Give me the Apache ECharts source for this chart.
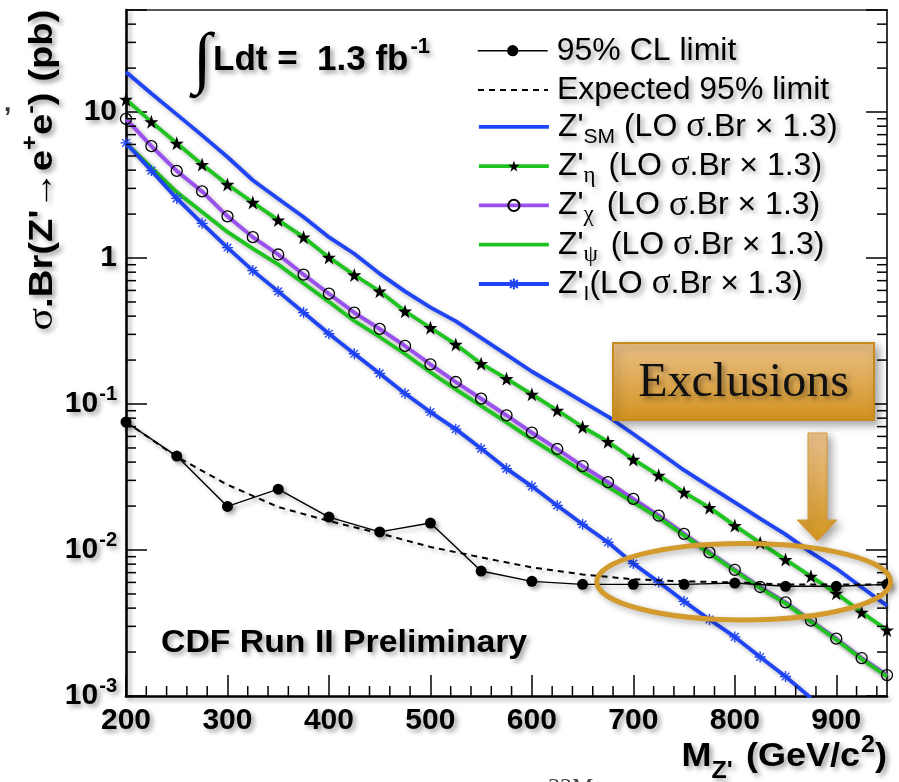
<!DOCTYPE html>
<html><head><meta charset="utf-8">
<script src="https://cdn.jsdelivr.net/npm/echarts@6/dist/echarts.min.js"></script>
<style>html,body{margin:0;padding:0;background:#fff}#c{width:899px;height:782px}</style>
</head><body><div id="c"></div>
<script>
// ---------------- data ----------------
const masses = [200,225,250,275,300,325,350,375,400,425,450,475,500,525,550,575,600,625,650,675,700,725,750,775,800,825,850,875,900,925,950];
const limitMasses = [200,250,300,350,400,450,500,550,600,650,700,750,800,850,900,950];
const observedLimit = [0.0753,0.0440,0.0199,0.0261,0.0168,0.0133,0.0153,0.00718,0.00610,0.00582,0.00582,0.00582,0.00594,0.00564,0.00564,0.00582];
const expectedLimit = [0.0755,0.0435,0.0280,0.0197,0.0158,0.0130,0.0105,0.0089,0.0076,0.0068,0.0063,0.0061,0.0060,0.0058,0.0058,0.0058];
const sigmaSM  = [18.8,13.4,9.64,6.92,4.92,3.41,2.55,1.91,1.39,1.07,0.782,0.591,0.459,0.370,0.284,0.218,0.167,0.132,0.104,0.0821,0.0623,0.0469,0.0352,0.0273,0.0212,0.0164,0.0128,0.00964,0.00746,0.00556,0.00416];
const sigmaEta = [12.2,8.57,6.11,4.37,3.19,2.40,1.82,1.39,1.01,0.765,0.592,0.432,0.333,0.256,0.189,0.149,0.1165,0.0906,0.0696,0.0552,0.0417,0.0325,0.0248,0.0195,0.0147,0.0112,0.0086,0.0066,0.00505,0.00374,0.00283];
const sigmaChi = [8.98,5.84,3.95,2.86,1.93,1.39,1.057,0.770,0.570,0.423,0.327,0.250,0.187,0.1415,0.1089,0.0837,0.0637,0.0492,0.0376,0.0292,0.0224,0.0172,0.0129,0.00964,0.00732,0.00558,0.00438,0.00328,0.00247,0.00182,0.00139];
const sigmaPsi = [6.13,4.16,2.83,2.07,1.51,1.16,0.905,0.671,0.501,0.371,0.288,0.220,0.165,0.126,0.0972,0.0749,0.0573,0.0445,0.0343,0.0271,0.0212,0.0166,0.0126,0.00949,0.00721,0.00549,0.00431,0.00323,0.00243,0.00179,0.00136];
const sigmaI   = [6.14,3.97,2.56,1.73,1.18,0.820,0.591,0.423,0.303,0.221,0.162,0.118,0.0881,0.0673,0.0495,0.0361,0.0273,0.0202,0.0150,0.0113,0.00807,0.00604,0.00445,0.00334,0.00254,0.00185,0.00136,0.00097];
const xMinorTicks = [220,240,260,280,320,340,360,380,420,440,460,480,520,540,560,580,620,640,660,680,720,740,760,780,820,840,860,880,920,940];
const yMinorTicks = [0.002,0.003,0.004,0.005,0.006,0.007,0.008,0.009,0.02,0.03,0.04,0.05,0.06,0.07,0.08,0.09,0.2,0.3,0.4,0.5,0.6,0.7,0.8,0.9,2,3,4,5,6,7,8,9,20,30,40];
const legendNames = ['obs','exp','sm','eta','chi','psi','I'];
const legendLabels = {
  obs: '{n|95% CL limit}',
  exp: '{n|Expected 95% limit}',
  sm:  "{n|Z'}{sub|SM}{n| (LO }{g|σ}{n|.Br × 1.3)}",
  eta: "{n|Z'}{subg|η}{n| (LO }{g|σ}{n|.Br × 1.3)}",
  chi: "{n|Z'}{subg|χ}{n| (LO }{g|σ}{n|.Br × 1.3)}",
  psi: "{n|Z'}{subg|ψ}{n| (LO }{g|σ}{n|.Br × 1.3)}",
  I:   "{n|Z'}{sub|I}{n|(LO }{g|σ}{n|.Br × 1.3)}"
};
const X_MIN = 200, X_MAX = 950, Y_MIN = 0.001, Y_MAX = 50;

// ---------------- styles ----------------
const SANS = '"Liberation Sans", Arial, Helvetica, sans-serif';
const SERIF = '"Liberation Serif", "Times New Roman", serif';
const BLUE = '#1f44f6', GREEN = '#20c420', PURPLE = '#9a50ee';
const NONE = 'rgba(0,0,0,0)';
const lsh = {shadowColor:'rgba(0,0,0,0.30)', shadowBlur:4, shadowOffsetX:3, shadowOffsetY:3};
const tsh = {textShadowColor:'rgba(0,0,0,0.38)', textShadowBlur:5, textShadowOffsetX:3, textShadowOffsetY:3};
const STAR = 'path://M50,0 L61.8,35.1 L98.9,35.1 L68.9,56.8 L80.3,91.9 L50,70.2 L19.7,91.9 L31.1,56.8 L1.1,35.1 L38.2,35.1 Z';
const ASTER = 'path://M50,0L50,100M0,50L100,50M15,15L85,85M85,15L15,85';

function pairs(xs, ys){ return ys.map((v,i)=>[xs[i], v]); }

function yLabel(v){
  const l = Math.log10(v), e = Math.round(l);
  if (Math.abs(l - e) > 1e-6) return '';
  if (e === 0) return '{m|1}';
  if (e === 1) return '{m|10}';
  return '{m|10}{s|' + e + '}';
}

const chart = echarts.init(document.getElementById('c'), null, {renderer:'canvas'});

const theory = (name, data, color, extra) => Object.assign({
  name, type:'line', data, smooth:false, showSymbol:false, symbol:'none',
  lineStyle:Object.assign({color, width:3.8}, lsh),
  itemStyle:{color:NONE}, emphasis:{disabled:true}, z:3
}, extra || {});

const legendTextStyle = {fontSize:32, fontFamily:SANS, color:'#000', padding:[0,0,0,4],
  rich:{
    n:Object.assign({fontSize:32, fontFamily:SANS, color:'#000', lineHeight:34}, tsh),
    g:Object.assign({fontSize:35, fontFamily:SERIF, color:'#000', lineHeight:34}, tsh),
    sub:Object.assign({fontSize:21, fontFamily:SANS, color:'#000', lineHeight:34, height:14, verticalAlign:'top', padding:[20,0,0,0]}, tsh),
    subg:Object.assign({fontSize:23, fontFamily:SERIF, color:'#000', lineHeight:34, height:14, verticalAlign:'top', padding:[20,4,0,0]}, tsh)
  }};
const ROW_TOP = 29.7, ROW_PITCH = 39.3, SUB_ROW_SHIFT = 4;
const legends = legendNames.map((n, i) => ({
  data:[n], orient:'vertical', left:472, top:ROW_TOP + ROW_PITCH * i - (i >= 2 ? SUB_ROW_SHIFT : 0),
  itemWidth:70, itemHeight:14,
  selectedMode:false, lineStyle:{width:'inherit'},
  formatter:(nm)=>legendLabels[nm], textStyle:legendTextStyle
}));

const option = {
  animation:false,
  backgroundColor:'#fff',
  grid:{left:126, right:12, top:10, bottom:86, containLabel:false},
  xAxis:[{
    type:'value', min:X_MIN, max:X_MAX, interval:100, position:'bottom',
    axisLine:{show:true, onZero:false, lineStyle:Object.assign({color:'#000', width:2.6}, lsh)},
    axisTick:{show:true, inside:true, length:21, lineStyle:{color:'#000', width:1.5}},
    axisLabel:Object.assign({show:true, showMaxLabel:false, margin:10, color:'#000', fontSize:30, fontWeight:'bold', fontFamily:SANS}, tsh),
    splitLine:{show:false}
  },{
    type:'value', min:X_MIN, max:X_MAX, position:'top',
    axisLine:{show:true, onZero:false, lineStyle:{color:'#222', width:1.6}},
    axisTick:{show:false}, axisLabel:{show:false}, splitLine:{show:false}
  }],
  yAxis:[{
    type:'log', logBase:10, min:Y_MIN, max:Y_MAX, position:'left',
    axisLine:{show:true, onZero:false, lineStyle:Object.assign({color:'#000', width:2.6}, lsh)},
    axisTick:{show:true, inside:true, length:21, lineStyle:{color:'#000', width:1.5}},
    axisLabel:{show:true, margin:9, formatter:yLabel, color:'#000',
      rich:{
        m:Object.assign({fontSize:30, fontWeight:'bold', fontFamily:SANS, color:'#000', lineHeight:42}, tsh),
        s:Object.assign({fontSize:20, fontWeight:'bold', fontFamily:SANS, color:'#000', lineHeight:42, verticalAlign:'top', padding:[1,0,0,1]}, tsh)
      }},
    splitLine:{show:false}
  },{
    type:'log', logBase:10, min:Y_MIN, max:Y_MAX, position:'right',
    axisLine:{show:true, onZero:false, lineStyle:{color:'#222', width:1.8}},
    axisTick:{show:true, inside:true, length:21, lineStyle:{color:'#000', width:1.5}},
    axisLabel:{show:false}, splitLine:{show:false}
  }],
  legend:legends,
  series:[
    theory('sm', pairs(masses, sigmaSM), BLUE),
    theory('eta', pairs(masses, sigmaEta), GREEN, {showSymbol:true, symbol:STAR, symbolSize:14,
      itemStyle:{color:'#000', borderWidth:0}}),
    theory('chi', pairs(masses, sigmaChi), PURPLE, {showSymbol:true, symbol:'circle', symbolSize:11,
      itemStyle:{color:NONE, borderColor:'#000', borderWidth:1.3}}),
    theory('psi', pairs(masses, sigmaPsi), GREEN),
    theory('I', pairs(masses, sigmaI), BLUE, {showSymbol:true, symbol:ASTER, symbolSize:11,
      itemStyle:{color:BLUE, borderColor:BLUE, borderWidth:1.3}}),
    {name:'exp', type:'line', data:pairs(limitMasses, expectedLimit), showSymbol:false, symbol:'none',
      lineStyle:Object.assign({color:'#000', width:2, type:[6,5]}, lsh), itemStyle:{color:NONE},
      emphasis:{disabled:true}, z:4},
    {name:'obs', type:'line', data:pairs(limitMasses, observedLimit), showSymbol:true, symbol:'circle', symbolSize:11,
      lineStyle:Object.assign({color:'#000', width:1.4}, lsh), itemStyle:Object.assign({color:'#000'}, lsh),
      emphasis:{disabled:true}, z:5},
    {name:'yminor', type:'custom', silent:true, z:6, clip:false,
      data:yMinorTicks.map(v=>[X_MIN, v]),
      renderItem:(params, api)=>{
        const cs = params.coordSys;
        const y = api.coord([api.value(0), api.value(1)])[1];
        const xl = cs.x, xr = cs.x + cs.width;
        return {type:'group', children:[
          {type:'line', shape:{x1:xl, y1:y, x2:xl+10, y2:y}, style:{stroke:'#000', lineWidth:1.5}},
          {type:'line', shape:{x1:xr-10, y1:y, x2:xr, y2:y}, style:{stroke:'#000', lineWidth:1.5}}
        ]};
      }},
    {name:'xminor', type:'custom', silent:true, z:6, clip:false,
      data:xMinorTicks.map(v=>[v, Y_MIN]),
      renderItem:(params, api)=>{
        const cs = params.coordSys;
        const x = api.coord([api.value(0), api.value(1)])[0];
        const yb = cs.y + cs.height;
        return {type:'line', shape:{x1:x, y1:yb, x2:x, y2:yb-10}, style:{stroke:'#000', lineWidth:1.5}};
      }}
  ],
  graphic:[
    {type:'text', x:43, y:170, rotation:Math.PI/2, scaleX:1.16, z:50, style:{
      text:"{g|σ}{b|.Br(Z'→e}{sup|+}{b|e}{sup|-}{b|) (pb)}", align:'center', verticalAlign:'middle',
      rich:{
        b:Object.assign({fontSize:33, fontWeight:'bold', fontFamily:SANS, fill:'#000', lineHeight:46}, tsh),
        g:Object.assign({fontSize:36, fontFamily:SERIF, fill:'#000', lineHeight:46}, tsh),
        sup:Object.assign({fontSize:22, fontWeight:'bold', fontFamily:SANS, fill:'#000', lineHeight:46, verticalAlign:'top', padding:[0,0,0,0]}, tsh)
      }}},
    {type:'text', x:887, y:757, scaleX:1.09, z:50, style:{
      text:"{b|M}{sub|Z'}{b| (GeV/c}{sup|2}{b|)}", align:'right', verticalAlign:'middle',
      rich:{
        b:Object.assign({fontSize:33, fontWeight:'bold', fontFamily:SANS, fill:'#000', lineHeight:46}, tsh),
        sub:Object.assign({fontSize:23, fontWeight:'bold', fontFamily:SANS, fill:'#000', lineHeight:46, verticalAlign:'top', padding:[26,3,0,0]}, tsh),
        sup:Object.assign({fontSize:23, fontWeight:'bold', fontFamily:SANS, fill:'#000', lineHeight:46, verticalAlign:'top', padding:[0,0,0,1]}, tsh)
      }}},
    {type:'text', x:202, y:62, z:50, style:Object.assign({text:'∫', font:'normal 68px ' + SERIF, fill:'#000', align:'center', verticalAlign:'middle'}, tsh)},
    {type:'text', x:213, y:60, z:50, style:{
      text:"{b|Ldt =  1.3 fb}{sup|-1}", align:'left', verticalAlign:'middle',
      rich:{
        b:Object.assign({fontSize:35, fontWeight:'bold', fontFamily:SANS, fill:'#000', lineHeight:48}, tsh),
        sup:Object.assign({fontSize:22, fontWeight:'bold', fontFamily:SANS, fill:'#000', lineHeight:48, verticalAlign:'top', padding:[0,0,0,2]}, tsh)
      }}},
    {type:'text', x:161, y:643, scaleX:1.09, z:50, style:Object.assign({text:'CDF Run II Preliminary', font:'bold 31px ' + SANS, fill:'#000', align:'left', verticalAlign:'middle'}, tsh)},
    {type:'rect', z:60, shape:{x:613, y:343, width:261, height:77}, style:{
      fill:{type:'linear', x:0, y:0, x2:0, y2:1, colorStops:[{offset:0, color:'#eac089'},{offset:1, color:'#d2921d'}]},
      stroke:'#c98a1c', lineWidth:2, shadowColor:'rgba(0,0,0,0.35)', shadowBlur:8, shadowOffsetX:4, shadowOffsetY:4}},
    {type:'text', x:743.5, y:383, z:61, style:Object.assign({text:'Exclusions', font:'normal 48px ' + SERIF, fill:'#111', align:'center', verticalAlign:'middle'}, tsh)},
    {type:'polygon', z:60, shape:{points:[[808,433],[827,433],[827,520],[837,520],[817.5,541],[797,520],[808,520]]}, style:{
      fill:{type:'linear', x:0, y:0, x2:0, y2:1, colorStops:[{offset:0, color:'#e9c08c'},{offset:1, color:'#d4961f'}]},
      stroke:'#d09a3a', lineWidth:1, shadowColor:'rgba(0,0,0,0.35)', shadowBlur:8, shadowOffsetX:4, shadowOffsetY:4}},
    {type:'ellipse', z:60, shape:{cx:743.7, cy:581.7, rx:147, ry:38.3}, style:{
      fill:'none', stroke:'#d39b2d', lineWidth:5, shadowColor:'rgba(0,0,0,0.3)', shadowBlur:6, shadowOffsetX:3, shadowOffsetY:3}},
    {type:'text', x:4, y:104, z:50, style:{text:',', font:'bold 26px ' + SANS, fill:'#333', align:'left', verticalAlign:'middle'}},
    {type:'text', x:548, y:776, z:50, style:{text:'32M', font:'normal 24px ' + SERIF, fill:'#444', align:'left', verticalAlign:'top'}}
  ]
};
chart.setOption(option);
</script></body></html>
